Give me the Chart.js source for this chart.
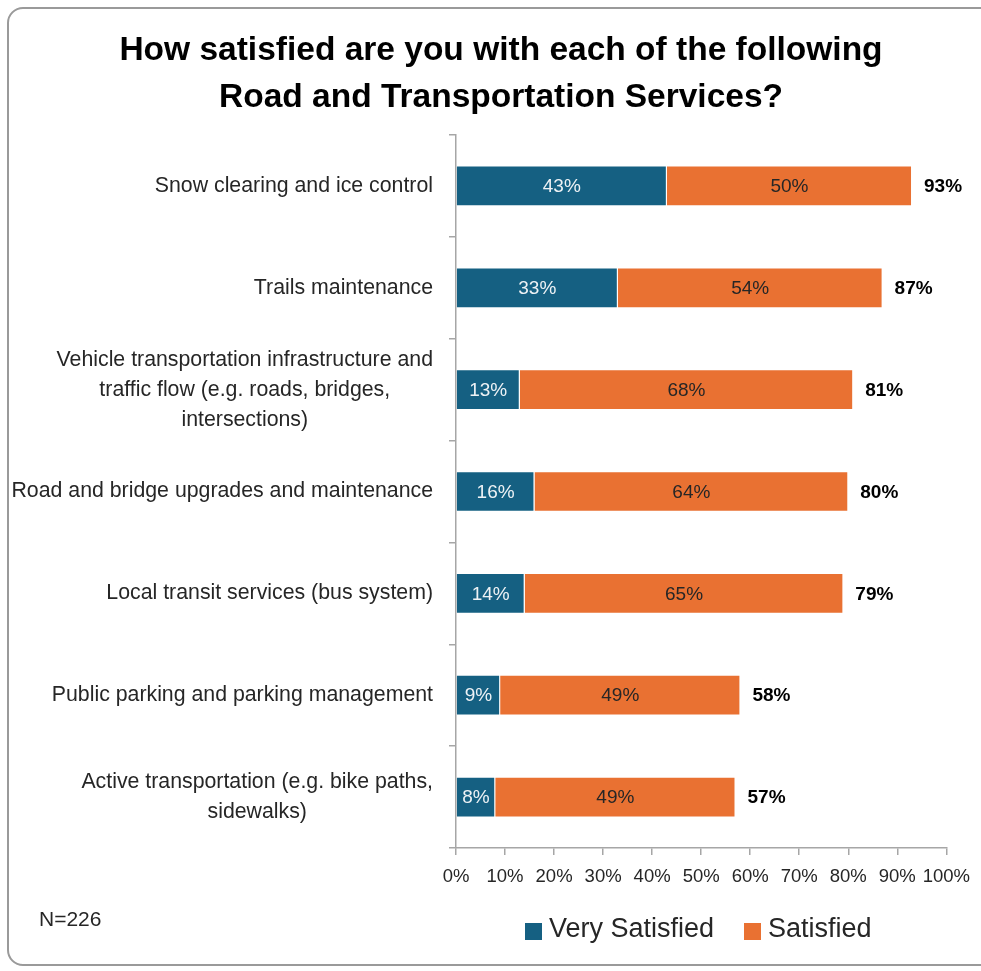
<!DOCTYPE html>
<html>
<head>
<meta charset="utf-8">
<script src="https://cdn.jsdelivr.net/npm/chart.js@4.4.1/dist/chart.umd.min.js"></script>
<style>
  html, body { margin: 0; padding: 0; background: #fff; overflow: hidden; }
  #wrap { position: relative; width: 981px; height: 971px; }
  #frame {
    position: absolute; left: 7px; top: 7px; width: 990px; height: 959px;
    border: 2px solid #9a9a9a; border-radius: 16px; box-sizing: border-box;
    pointer-events: none;
  }
  canvas { position: absolute; left: 0; top: 0; }
</style>
</head>
<body>
<div id="wrap">
  <canvas id="chart" width="981" height="971"></canvas>
  <div id="frame"></div>
</div>
<script>
// Survey results
const titleLines = [
  'How satisfied are you with each of the following',
  'Road and Transportation Services?'
];
const categories = [
  ['Snow clearing and ice control'],
  ['Trails maintenance'],
  ['Vehicle transportation infrastructure and', 'traffic flow (e.g. roads, bridges,', 'intersections)'],
  ['Road and bridge upgrades and maintenance'],
  ['Local transit services (bus system)'],
  ['Public parking and parking management'],
  ['Active transportation (e.g. bike paths,', 'sidewalks)']
];
const verySatisfied = [43, 33, 13, 16, 14, 9, 8];
const satisfied = [50, 54, 68, 64, 65, 49, 49];
const seriesNames = ['Very Satisfied', 'Satisfied'];
const sampleNote = 'N=226';

const BLUE = '#156082';
const ORANGE = '#E97132';
const AXIS_GREY = '#a6a6a6';
const TEXT = '#262626';
const FONT = '"Liberation Sans", Arial, sans-serif';

// Title, category labels, bar labels, totals, legend and sample size
const annotate = {
  id: 'annotate',
  afterDraw(chart) {
    const ctx = chart.ctx;
    ctx.save();

    // title
    ctx.fillStyle = '#000';
    ctx.font = 'bold 33.5px ' + FONT;
    ctx.textAlign = 'center';
    ctx.textBaseline = 'middle';
    titleLines.forEach((line, i) => ctx.fillText(line, 501, 51 + i * 47));

    // category labels: lines centred on each other, block right-aligned
    const yScale = chart.scales.y;
    ctx.font = '21.3px ' + FONT;
    ctx.fillStyle = TEXT;
    const rightEdge = yScale.right - 23;
    categories.forEach((lines, i) => {
      const yc = yScale.getPixelForTick(i);
      const widest = Math.max(...lines.map(l => ctx.measureText(l).width));
      const cx = rightEdge - widest / 2;
      const lineH = 30;
      lines.forEach((l, j) => {
        ctx.fillText(l, cx, yc + (j - (lines.length - 1) / 2) * lineH);
      });
    });

    // values inside the bars
    ctx.font = '19px ' + FONT;
    chart.data.datasets.forEach((ds, di) => {
      const meta = chart.getDatasetMeta(di);
      ctx.fillStyle = di === 0 ? '#eef2f5' : TEXT;
      meta.data.forEach((bar, i) => {
        const p = bar.getProps(['x', 'y', 'base'], true);
        ctx.fillText(ds.data[i] + '%', (p.x + p.base) / 2, p.y + 1);
      });
    });

    // totals to the right of each bar
    ctx.font = 'bold 19px ' + FONT;
    ctx.fillStyle = '#000';
    ctx.textAlign = 'left';
    const last = chart.getDatasetMeta(1);
    last.data.forEach((bar, i) => {
      const total = verySatisfied[i] + satisfied[i];
      ctx.fillText(total + '%', bar.x + 12, bar.y + 1);
    });

    // legend
    ctx.font = '27px ' + FONT;
    const legendX = [525, 744];
    [BLUE, ORANGE].forEach((c, i) => {
      ctx.fillStyle = c;
      ctx.fillRect(legendX[i], 923, 17, 17);
      ctx.fillStyle = TEXT;
      ctx.fillText(seriesNames[i], legendX[i] + 24, 930);
    });

    // sample size
    ctx.font = '21px ' + FONT;
    ctx.fillText(sampleNote, 39, 920);

    ctx.restore();
  }
};

new Chart(document.getElementById('chart'), {
  type: 'bar',
  data: {
    labels: categories,
    datasets: [
      { label: seriesNames[0], data: verySatisfied, backgroundColor: BLUE, borderColor: '#ffffff', borderWidth: 1 },
      { label: seriesNames[1], data: satisfied, backgroundColor: ORANGE, borderColor: '#ffffff', borderWidth: 1 }
    ]
  },
  options: {
    indexAxis: 'y',
    responsive: false,
    animation: false,
    categoryPercentage: 0.8,
    barPercentage: 0.5,
    layout: { padding: { top: 135, bottom: 63, left: 0, right: 29 } },
    plugins: {
      legend: { display: false },
      title: { display: false },
      tooltip: { enabled: false }
    },
    scales: {
      x: {
        stacked: true,
        min: 0,
        max: 100,
        afterFit(scale) { scale.height = 60; },
        ticks: {
          stepSize: 10,
          padding: 11,
          maxRotation: 0,
          minRotation: 0,
          autoSkip: false,
          color: TEXT,
          font: { family: FONT, size: 18.5 },
          callback: v => v + '%'
        },
        grid: { drawOnChartArea: false, tickLength: 7, color: AXIS_GREY, lineWidth: 1.5 },
        border: { color: AXIS_GREY, width: 1.5 }
      },
      y: {
        stacked: true,
        afterFit(scale) { scale.width = 456; },
        ticks: { display: false },
        grid: { drawOnChartArea: false, tickLength: 7, offset: true, color: AXIS_GREY, lineWidth: 1.5 },
        border: { color: AXIS_GREY, width: 1.5 }
      }
    }
  },
  plugins: [annotate]
});
</script>
</body>
</html>
